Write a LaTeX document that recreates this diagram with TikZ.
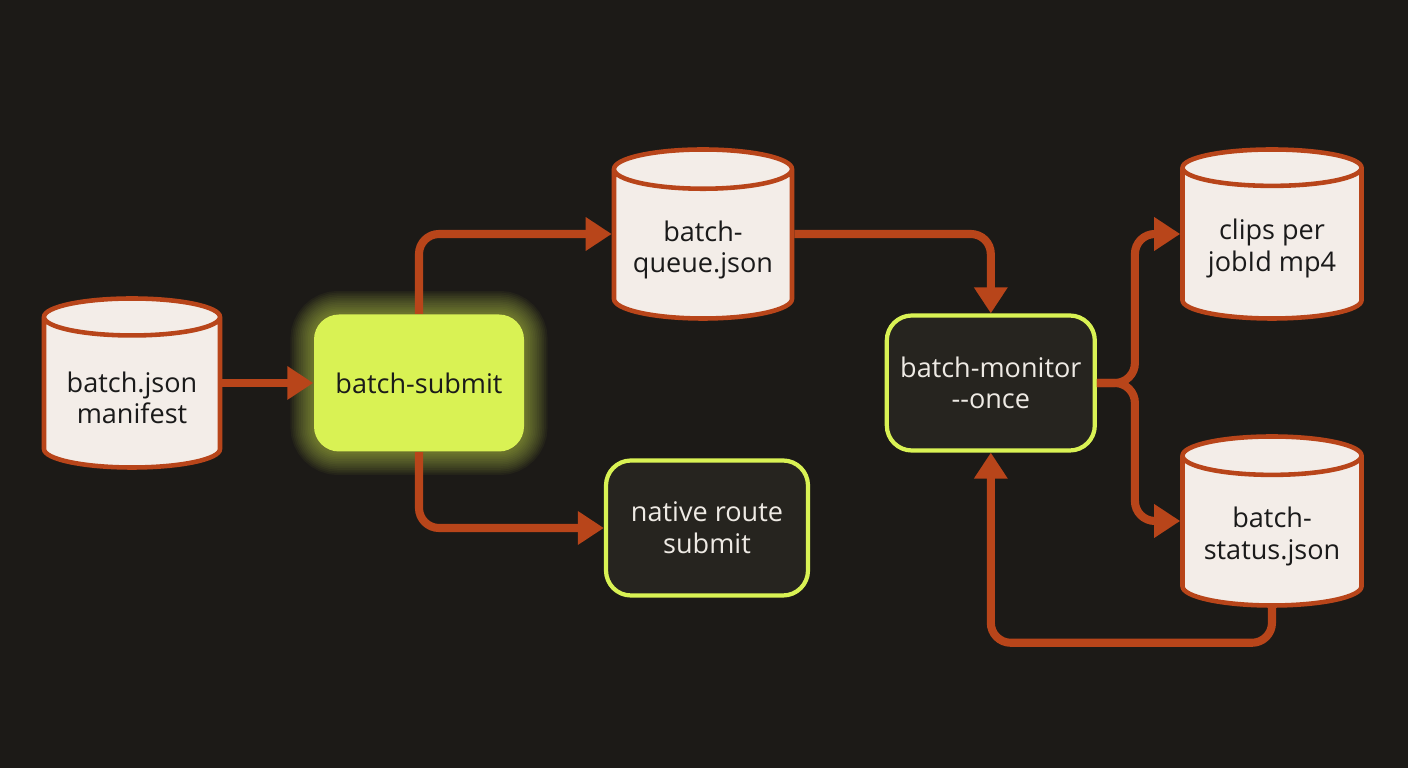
\documentclass[tikz,border=0pt]{standalone}
\usepackage{fontspec}
\setmainfont{Open Sans}
\usepackage{tikz}
\usetikzlibrary{arrows.meta,positioning,shapes.geometric,backgrounds}
\definecolor{bgdark}{HTML}{1C1A17}
\definecolor{rust}{HTML}{B8451A}
\definecolor{paper}{HTML}{F3EDE8}
\definecolor{lime}{HTML}{D9F254}
\definecolor{boxdark}{HTML}{26241F}
\definecolor{inkdark}{HTML}{1A1A1A}
\definecolor{inklight}{HTML}{EEEAE4}

\begin{document}
\begin{tikzpicture}[font=\fontsize{7.7}{9}\selectfont,
   db/.style={cylinder,shape border rotate=90,aspect=0.24,draw=rust,line width=1.3pt,
              fill=paper,text=inkdark,align=center,anchor=shape center,
              minimum width=1.76cm,minimum height=1.69cm},
   proc/.style={draw=lime,line width=1.2pt,rounded corners=2.5mm,fill=boxdark,
                text=inklight,align=center,minimum width=2.05cm,minimum height=1.35cm},
   hot/.style={fill=lime,draw=none,rounded corners=2.5mm,text=inkdark,align=center,
               minimum width=2.10cm,minimum height=1.37cm},
   flow/.style={draw=rust,line width=2.3pt,rounded corners=2mm,
                -{Triangle[length=2.6mm,width=3.2mm]}}]
  \useasboundingbox (0,0) rectangle (14.08,7.68);

  \node[db] (man) at (1.32,3.85) {batch.json\\manifest};
  \node[hot] (sub) at (4.19,3.85) {batch-submit};
  \node[db,minimum width=1.78cm] (que) at (7.03,5.34) {batch-\\queue.json};
  \node[proc,minimum width=2.02cm] (nat) at (7.07,2.40) {native route\\submit};
  \node[proc,minimum width=2.08cm,right=3.6cm of sub] (mon) {batch-monitor\\{-}{-}once};
  \node[db,minimum width=1.79cm] (clp) at (12.72,5.34) {clips per\\jobId mp4};
  \node[db,minimum width=1.79cm] (sta) at (12.72,2.47) {batch-\\status.json};

  % dark ground, then the glow round the submit step
  \begin{scope}[on background layer]
    \fill[bgdark] (0,0) rectangle (14.08,7.68);
    \foreach \w in {1,2,...,13}
      \draw[lime,opacity=0.045,line width=\w pt,rounded corners=2.5mm]
        (sub.south west) rectangle (sub.north east);
  \end{scope}

  \draw[flow] (sub.west -| man.east) -- (sub.west);
  \draw[flow] (sub.north) |- (que.shape center -| que.west);
  \draw[flow] (sub.south) |- (nat.west);
  \draw[flow] (que.shape center -| que.east) -| (mon.north);
  \draw[flow] (mon.east) -- ++(0.38,0) |- (clp.shape center -| clp.west);
  \draw[flow] (mon.east) -- ++(0.38,0) |- (sta.shape center -| sta.west);
  \draw[flow] (sta.south) -- ++(0,-0.35) -| (mon.south);
\end{tikzpicture}
\end{document}
